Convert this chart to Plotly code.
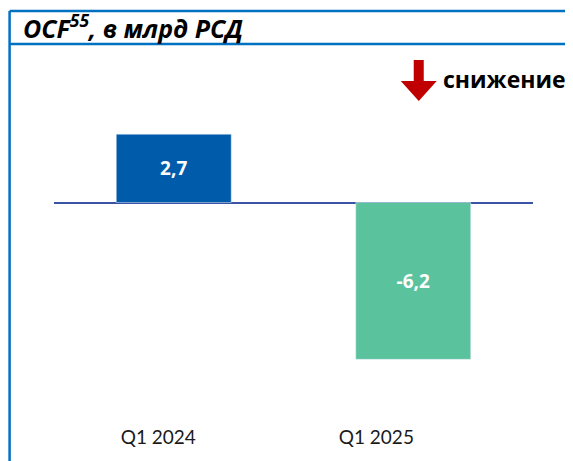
import plotly.graph_objects as go

categories = ['Q1 2024', 'Q1 2025']
values = [2.7, -6.2]
bar_colors = ['#005BAA', '#5BC29E']

# page offset of the plot div (body margin)
OFF = 8
W, H = 573 - OFF, 461 - OFF
# plot area in page pixels
L, R, T, B = 53.5, 533.5, 80, 424
ZERO, SCALE = 202.5, 25.3


def px_x(p):
    return (p - L) / (R - L)


def px_y(p):
    return (B - p) / (B - T)


fig = go.Figure()
fig.add_trace(go.Bar(
    x=categories, y=values, marker_color=bar_colors, width=0.48,
    texttemplate='<b>%{y:.1f}</b>', textposition='inside',
    insidetextanchor='middle', textangle=0,
    textfont=dict(color='white', size=19, family='Open Sans'),
    showlegend=False, hoverinfo='skip',
))
# invisible trace carrying the category labels (offset from bars as in the source)
fig.add_trace(go.Scatter(
    x=categories, y=[0, 0], xaxis='x2', mode='markers',
    marker=dict(opacity=0), showlegend=False, hoverinfo='skip',
))

line = dict(color='#0070C0', width=2.5)
shapes = [
    dict(type='line', xref='paper', yref='paper', x0=px_x(9), x1=px_x(600),
         y0=px_y(11), y1=px_y(11), line=line),
    dict(type='line', xref='paper', yref='paper', x0=px_x(9), x1=px_x(600),
         y0=px_y(44), y1=px_y(44), line=line),
    dict(type='line', xref='paper', yref='paper', x0=px_x(9), x1=px_x(9),
         y0=px_y(11), y1=px_y(480), line=line),
]
# red down arrow
pts = [(414, 60), (424, 60), (424, 81), (437, 81), (419, 101), (401, 81), (414, 81)]
path = 'M ' + ' L '.join(f'{px_x(a):.4f},{px_y(b):.4f}' for a, b in pts) + ' Z'
shapes.append(dict(type='path', xref='paper', yref='paper', path=path,
                   fillcolor='#C00000', line=dict(width=0)))

ymax = (ZERO - T) / SCALE
ymin = -(B - ZERO) / SCALE

lab0, lab1 = 158, 376.5
step = lab1 - lab0
x2_range = [-(lab0 - L) / step, -(lab0 - L) / step + (R - L) / step]

fig.update_layout(
    width=W, height=H,
    margin=dict(l=L - OFF, r=W - (R - OFF), t=T - OFF, b=H - (B - OFF)),
    plot_bgcolor='white', paper_bgcolor='white',
    separators=', ',
    shapes=shapes,
    font=dict(family='Lato', color='#1a1a1a'),
    xaxis=dict(showline=False, showgrid=False, ticks='', showticklabels=False),
    xaxis2=dict(overlaying='x', anchor='y', side='bottom', range=x2_range,
                showline=False, showgrid=False, ticks='', tickfont=dict(size=19)),
    yaxis=dict(range=[ymin, ymax], showgrid=False, showticklabels=False,
               zeroline=True, zerolinecolor='#3A53A4', zerolinewidth=2),
    annotations=[
        dict(xref='paper', yref='paper', x=px_x(20), y=px_y(27), xanchor='left',
             yanchor='middle', showarrow=False,
             text='<b><i>OCF<sup>55</sup>, в млрд РСД</i></b>',
             font=dict(size=25, color='black', family='Open Sans')),
        dict(xref='paper', yref='paper', x=px_x(441), y=px_y(79), xanchor='left',
             yanchor='middle', showarrow=False, text='<b>снижение</b>',
             font=dict(size=23, color='black', family='Open Sans')),
    ],
)

fig.write_html('out.html')
